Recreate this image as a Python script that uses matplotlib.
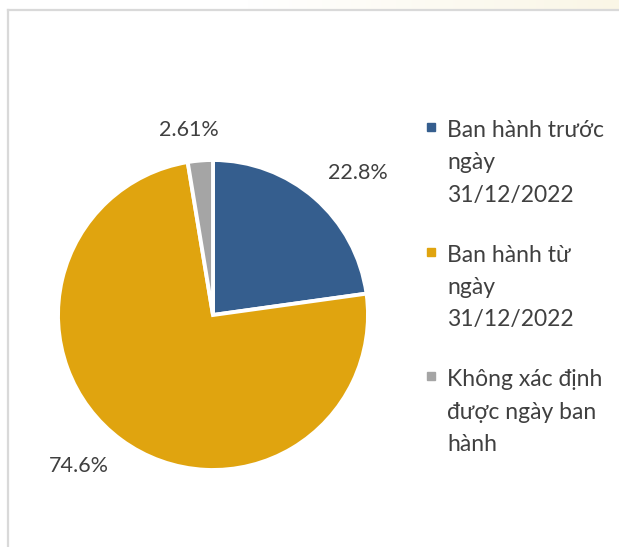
import numpy as np
import matplotlib.pyplot as plt
from matplotlib.patches import Rectangle
from matplotlib.lines import Line2D

# data
categories = ['Ban hành trước\nngày\n31/12/2022',
              'Ban hành từ\nngày\n31/12/2022',
              'Không xác định\nđược ngày ban\nhành']
values = [22.8, 74.6, 2.61]
pct_labels = ['22.8%', '74.6%', '2.61%']
colors = ['#355E8E', '#E0A40F', '#A5A5A5']

plt.rcParams['font.family'] = ['Lato', 'DejaVu Sans']
txt = '#404040'

W, H = 619, 547
fig = plt.figure(figsize=(W / 100, H / 100), dpi=100)

# faint tint along the top edge
axg = fig.add_axes([0, 1 - 9 / H, 1, 9 / H])
grad = np.linspace(0, 1, 256)
grad = np.clip((grad - 0.4) / 0.6, 0, 1)
c0 = np.array([1.0, 1.0, 1.0])
c1 = np.array([0xFA, 0xF6, 0xE6]) / 255
img = c0[None, None, :] * (1 - grad[None, :, None]) + c1[None, None, :] * grad[None, :, None]
axg.imshow(img, aspect='auto', extent=[0, 1, 0, 1])
axg.axis('off')

# chart border (top and left)
fig.add_artist(Line2D([7.5 / W, 1], [1 - 10 / H, 1 - 10 / H], transform=fig.transFigure, color='#D9D9D9', lw=1.6))
fig.add_artist(Line2D([7.5 / W, 7.5 / W], [0, 1 - 10 / H], transform=fig.transFigure, color='#D9D9D9', lw=1.6))

# pie
cx, cy, r = 213, 315, 155
ax = fig.add_axes([(cx - r) / W, 1 - (cy + r) / H, 2 * r / W, 2 * r / H])
wedges, _ = ax.pie(values, colors=colors, startangle=90, counterclock=False,
                   wedgeprops=dict(edgecolor='white', linewidth=2.8))
ax.set_xlim(-1, 1)
ax.set_ylim(-1, 1)
ax.axis('off')

for w, lab in zip(wedges, pct_labels):
    ang = np.deg2rad((w.theta1 + w.theta2) / 2)
    x, y = 1.13 * np.cos(ang), 1.13 * np.sin(ang)
    if abs(np.cos(ang)) < 0.3:
        ha = 'center'
        x = x - 0.06
    else:
        ha = 'left' if x > 0 else 'right'
    va = 'bottom' if y > 0 else 'top'
    ax.text(x, y, lab, ha=ha, va=va, fontsize=15.5, color=txt)

# legend
y = 137
for cat, col in zip(categories, colors):
    lines = cat.split('\n')
    fig.add_artist(Rectangle((427 / W, 1 - (y - 6) / H), 8 / W, 8 / H,
                             transform=fig.transFigure, color=col))
    for i, line in enumerate(lines):
        fig.text(447 / W, 1 - (y + i * 32.3) / H, line, va='baseline',
                 fontsize=16.5, color=txt)
    y = y + (len(lines) - 1) * 32.3 + 60

fig.savefig('out.png', dpi=100)
